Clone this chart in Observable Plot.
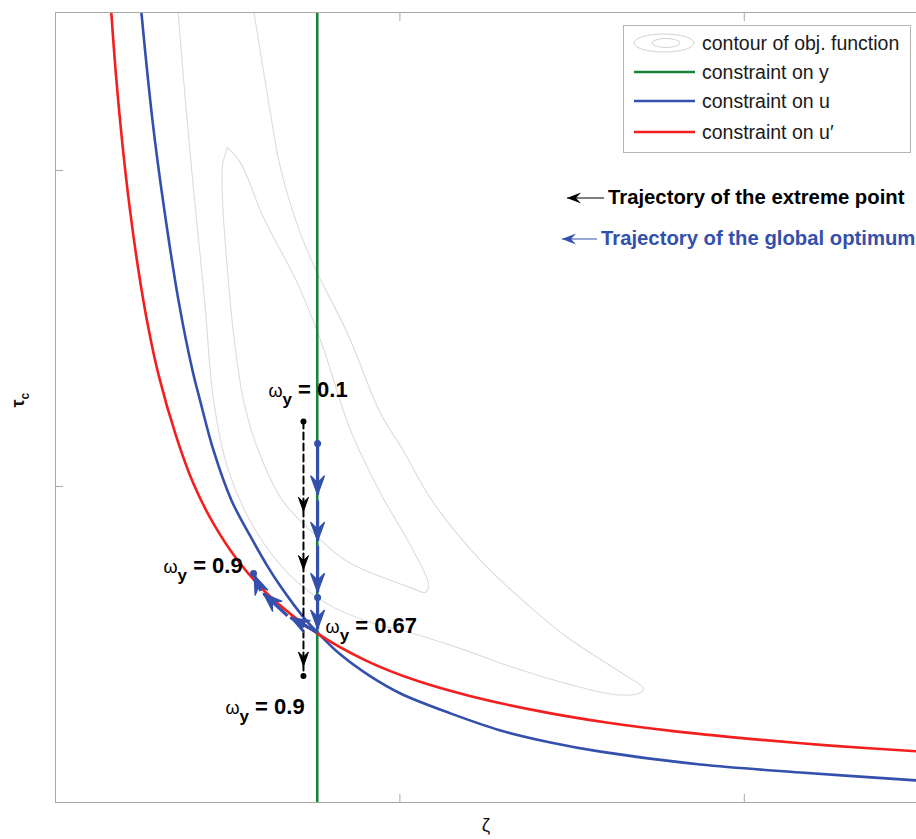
<!DOCTYPE html>
<html>
<head>
<meta charset="utf-8">
<script src="https://cdn.jsdelivr.net/npm/d3@7"></script>
<script src="https://cdn.jsdelivr.net/npm/@observablehq/plot@0.6"></script>
<style>
  body { margin: 0; background: #fff; font-family: "Liberation Sans", Arial, Helvetica, sans-serif; }
  #wrap { position: relative; width: 916px; height: 839px; overflow: hidden; }
  .legend { position: absolute; left: 623px; top: 25px; width: 288px; height: 128px; box-sizing: border-box;
            border: 1px solid #b5b5b5; background: #fff; font-size: 19.5px; color: #1a1a1a; }
  .legend .row { position: absolute; left: 9px; height: 22px; display: flex; align-items: center; }
  .legend .row span { margin-left: 7px; white-space: nowrap; }
  .note { position: absolute; font-weight: bold; font-size: 20.3px; white-space: nowrap; }
  .arrowkey { position: absolute; }
</style>
</head>
<body>
<div id="wrap"></div>
<script>
// ζ–τc plane, axis extent and tick positions (tick labels are not shown)
const zetaDomain = [0, 2.5];
const tauDomain = [0, 2.5];
const zetaTicks = [0, 1, 2];
const tauTicks = [0, 1, 2];

// constraint on y: vertical line at a fixed ζ
const constraintY = [0.76];

// constraint on u: boundary curve [ζ, τc]
const constraintU = [
  [0.2439, 2.570], [0.2497, 2.497], [0.2817, 2.158], [0.3121, 1.905], [0.3571, 1.589],
  [0.3978, 1.367], [0.4199, 1.272], [0.4588, 1.114], [0.5110, 0.956], [0.5662, 0.842],
  [0.6127, 0.753], [0.6533, 0.684], [0.6911, 0.627], [0.7259, 0.579], [0.7608, 0.538],
  [0.8275, 0.468], [0.9146, 0.399], [1.0017, 0.345], [1.1469, 0.282], [1.2921, 0.228],
  [1.4373, 0.190], [1.5825, 0.161], [1.8728, 0.120], [2.1632, 0.095], [2.5000, 0.070]
];

// constraint on u': boundary curve [ζ, τc]
const constraintUPrime = [
  [0.156, 2.60], [0.160, 2.53], [0.175, 2.31], [0.19, 2.13], [0.21, 1.93], [0.24, 1.69],
  [0.27, 1.50], [0.30, 1.35], [0.35, 1.16], [0.40, 1.01], [0.46, 0.88], [0.53, 0.765],
  [0.62, 0.655], [0.76, 0.535], [0.90, 0.45], [1.05, 0.385], [1.20, 0.338], [1.40, 0.29],
  [1.60, 0.253], [1.80, 0.225], [2.00, 0.203], [2.25, 0.18], [2.50, 0.162]
];

// objective function contours [ζ, τc]
const contourOuter = [
  [0.351, 2.570], [0.377, 2.222], [0.404, 1.905], [0.433, 1.589], [0.459, 1.272],
  [0.502, 1.051], [0.581, 0.861], [0.682, 0.718], [0.798, 0.623], [0.915, 0.570],
  [1.039, 0.535], [1.176, 0.487], [1.330, 0.427], [1.495, 0.373], [1.620, 0.342],
  [1.693, 0.345], [1.707, 0.361], [1.655, 0.402], [1.487, 0.522], [1.350, 0.646],
  [1.234, 0.766], [1.089, 0.962], [1.010, 1.114], [0.944, 1.231], [0.848, 1.484],
  [0.761, 1.674], [0.711, 1.801], [0.653, 2.009], [0.618, 2.222], [0.566, 2.570]
];
const contourInner = [
  [0.499, 2.073], [0.485, 2.016], [0.485, 1.905], [0.497, 1.715], [0.517, 1.484],
  [0.546, 1.272], [0.589, 1.114], [0.659, 0.956], [0.740, 0.861], [0.842, 0.766],
  [0.944, 0.715], [1.031, 0.680], [1.074, 0.665], [1.083, 0.690], [1.031, 0.813],
  [0.944, 0.978], [0.857, 1.177], [0.770, 1.462], [0.703, 1.642], [0.604, 1.851],
  [0.537, 2.025], [0.499, 2.073]
];

// trajectory of the extreme point as ωy grows [ζ, τc]
const extremePath = [[0.720, 1.206], [0.720, 0.890], [0.720, 0.720], [0.720, 0.400]];
// trajectory of the global optimum as ωy grows [ζ, τc]
const optimumPath = [
  [0.761, 1.136], [0.761, 0.956], [0.761, 0.813], [0.761, 0.649], [0.761, 0.538],
  [0.6736, 0.5908], [0.5961, 0.6693], [0.5749, 0.7247]
];
const optimumDots = [0, 3, 7];

// ωy annotations: value shown, point it is attached to
const omegaLabels = [
  { value: "0.1", at: extremePath[0], dx: -35, dy: -31 },
  { value: "0.67", at: optimumPath[4], dx: 8, dy: -7 },
  { value: "0.9", at: optimumPath[7], dx: -90, dy: -8 },
  { value: "0.9", at: extremePath[extremePath.length - 1], dx: -78, dy: 31 }
];

const colors = { y: "#17843b", u: "#3450ad", uPrime: "#f51e1e", contour: "#dcdcdc", axis: "#a8a8a8" };

// position scales shared by the chart and the arrow-head orientation
const xOptions = { domain: zetaDomain, range: [55, 916] };
const yOptions = { domain: tauDomain, range: [802, 12] };
const sx = Plot.scale({ x: xOptions });
const sy = Plot.scale({ y: yOptions });

// quiver-style arrows: each arrow covers 90% of the step between two path points
const quiverScale = 0.9;
function quiver(path) {
  return d3.pairs(path).map(([a, b]) => {
    const x2 = a[0] + (b[0] - a[0]) * quiverScale;
    const y2 = a[1] + (b[1] - a[1]) * quiverScale;
    const px = sx.apply(b[0]) - sx.apply(a[0]);
    const py = sy.apply(b[1]) - sy.apply(a[1]);
    return { x1: a[0], y1: a[1], x2, y2, angle: Math.atan2(px, -py) * 180 / Math.PI };
  });
}

// barbed arrow head pointing up, tip at the symbol origin
function barbedHead(len, half, notch) {
  return {
    draw(ctx) {
      ctx.moveTo(0, 0);
      ctx.lineTo(-half, len);
      ctx.lineTo(0, notch);
      ctx.lineTo(half, len);
      ctx.closePath();
    }
  };
}

const labelMarks = omegaLabels.map(l =>
  Plot.text([l], { x: d => d.at[0], y: d => d.at[1], dx: l.dx, dy: l.dy, text: d => "ω|y| = " + d.value,
    textAnchor: "start", fontSize: 22, fontWeight: "bold", fill: "#000" })
);

const extremeArrows = quiver(extremePath);
const optimumArrows = quiver(optimumPath);

const plot = Plot.plot({
  width: 916,
  height: 839,
  marginLeft: 55,
  marginRight: 0,
  marginTop: 12,
  marginBottom: 37,
  x: xOptions,
  y: yOptions,
  style: { fontFamily: "Liberation Sans, Arial, sans-serif", background: "#fff", overflow: "visible" },
  marks: [
    // contours
    Plot.line(contourOuter, { x: d => d[0], y: d => d[1], stroke: colors.contour, strokeWidth: 1.1, curve: "catmull-rom", clip: true }),
    Plot.line(contourInner, { x: d => d[0], y: d => d[1], stroke: colors.contour, strokeWidth: 1.1, curve: "catmull-rom-closed", clip: true }),
    // constraint boundaries
    Plot.ruleX(constraintY, { y1: tauDomain[0], y2: tauDomain[1], stroke: colors.y, strokeWidth: 2.6 }),
    Plot.line(constraintU, { x: d => d[0], y: d => d[1], stroke: colors.u, strokeWidth: 2.6, curve: "catmull-rom", clip: true }),
    Plot.line(constraintUPrime, { x: d => d[0], y: d => d[1], stroke: colors.uPrime, strokeWidth: 2.6, curve: "catmull-rom", clip: true }),
    // extreme point trajectory
    Plot.line(extremePath, { x: d => d[0], y: d => d[1], stroke: "#000", strokeWidth: 2, strokeDasharray: "7,4" }),
    Plot.dot(extremeArrows, { x: "x2", y: "y2", rotate: "angle", symbol: barbedHead(14, 5, 9), fill: "#000", stroke: "#000", strokeWidth: 1 }),
    Plot.dot([extremePath[0], extremePath[extremePath.length - 1]], { x: d => d[0], y: d => d[1], r: 3, fill: "#000" }),
    // global optimum trajectory
    Plot.link(optimumArrows, { x1: "x1", y1: "y1", x2: "x2", y2: "y2", stroke: colors.u, strokeWidth: 3.2 }),
    Plot.dot(optimumArrows, { x: "x2", y: "y2", rotate: "angle", symbol: barbedHead(19, 7, 12), fill: colors.u, stroke: colors.u, strokeWidth: 1.2 }),
    Plot.dot(optimumDots.map(i => optimumPath[i]), { x: d => d[0], y: d => d[1], r: 3.5, fill: colors.u }),
    // ωy labels
    ...labelMarks,
    // box and ticks
    Plot.ruleX([zetaDomain[0]], { stroke: colors.axis }),
    Plot.ruleY([tauDomain[0], tauDomain[1]], { stroke: colors.axis }),
    Plot.axisX({ ticks: zetaTicks, tickSize: -8, tickFormat: () => "", stroke: colors.axis }),
    Plot.axisX({ anchor: "top", ticks: zetaTicks, tickSize: -8, tickFormat: () => "", stroke: colors.axis }),
    Plot.axisY({ ticks: tauTicks, tickSize: -8, tickFormat: () => "", stroke: colors.axis }),
    // axis titles
    Plot.text(["ζ"], { frameAnchor: "bottom", dy: 28, fontSize: 19, fill: "#111" }),
    Plot.text(["τ|c"], { frameAnchor: "left", dx: -37, rotate: -90, fontSize: 18, fontWeight: "bold", fill: "#111" })
  ]
});

// split "base|sub|rest" labels into tspans with a subscript
d3.select(plot).selectAll("text").each(function () {
  const t = this.textContent;
  if (!t.includes("|")) return;
  const [base, sub, rest] = t.split("|");
  const el = d3.select(this);
  el.text(null);
  const omega = base === "ω";
  el.append("tspan").text(base).attr("font-weight", omega ? "normal" : null).attr("font-size", omega ? 18 : null);
  el.append("tspan").text(sub).attr("dy", omega ? 8 : 5).attr("font-size", omega ? 17 : 12);
  if (rest) el.append("tspan").text(rest).attr("dy", -8);
});

const wrap = document.getElementById("wrap");
wrap.appendChild(plot);

// legend
const legend = document.createElement("div");
legend.className = "legend";
const entries = [
  ["contour", "contour of obj. function", 6],
  [colors.y, "constraint on y", 35],
  [colors.u, "constraint on u", 64],
  [colors.uPrime, "constraint on u′", 95]
];
for (const [c, label, top] of entries) {
  const row = document.createElement("div");
  row.className = "row";
  row.style.top = top + "px";
  const sw = c === "contour"
    ? `<svg width="62" height="22"><ellipse cx="31" cy="11" rx="30" ry="9" fill="none" stroke="#d2d2d2"/><ellipse cx="33" cy="11" rx="14" ry="4.5" fill="none" stroke="#d2d2d2"/></svg>`
    : `<svg width="62" height="22"><line x1="1" x2="62" y1="11" y2="11" stroke="${c}" stroke-width="2.6"/></svg>`;
  row.innerHTML = sw + `<span>${label}</span>`;
  legend.appendChild(row);
}
wrap.appendChild(legend);

// trajectory key
const notes = [
  ["Trajectory of the extreme point", "#000", 565, 608, 198],
  ["Trajectory of the global optimum", colors.u, 560, 601, 239]
];
for (const [label, c, arrowLeft, textLeft, cy] of notes) {
  const a = document.createElement("div");
  a.className = "arrowkey";
  a.style.left = arrowLeft + "px";
  a.style.top = (cy - 10) + "px";
  const w = textLeft - arrowLeft - 4;
  a.innerHTML = `<svg width="${w}" height="20"><path d="M2 10 L${w} 10" stroke="${c}" stroke-width="1.2"/><path d="M2 10 L16 4.5 L11 10 L16 15.5 Z" fill="${c}"/></svg>`;
  wrap.appendChild(a);
  const n = document.createElement("div");
  n.className = "note";
  n.style.left = textLeft + "px";
  n.style.top = (cy - 12) + "px";
  n.style.color = c;
  n.textContent = label;
  wrap.appendChild(n);
}
</script>
</body>
</html>
